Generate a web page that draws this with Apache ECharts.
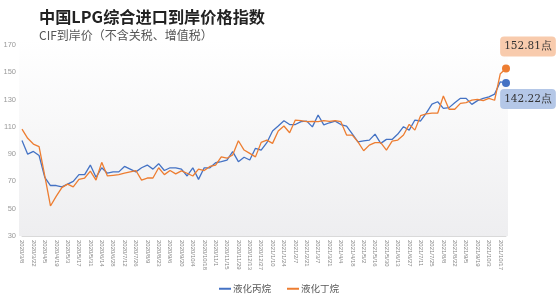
<!DOCTYPE html>
<html><head><meta charset="utf-8">
<script src="https://cdn.jsdelivr.net/npm/echarts@6/dist/echarts.min.js"></script>
<style>html,body{margin:0;padding:0;background:#fff}#c{width:556px;height:294px}</style>
</head><body><div id="c"></div>
<script>
const dates = ['2020/3/8','2020/3/15','2020/3/22','2020/3/29','2020/4/5','2020/4/12','2020/4/19','2020/4/26','2020/5/3','2020/5/10','2020/5/17','2020/5/24','2020/5/31','2020/6/7','2020/6/14','2020/6/21','2020/6/28','2020/7/5','2020/7/12','2020/7/19','2020/7/26','2020/8/2','2020/8/9','2020/8/16','2020/8/23','2020/8/30','2020/9/6','2020/9/13','2020/9/20','2020/9/27','2020/10/4','2020/10/11','2020/10/18','2020/10/25','2020/11/1','2020/11/8','2020/11/15','2020/11/22','2020/11/29','2020/12/6','2020/12/13','2020/12/20','2020/12/27','2021/1/3','2021/1/10','2021/1/17','2021/1/24','2021/1/31','2021/2/7','2021/2/14','2021/2/21','2021/2/28','2021/3/7','2021/3/14','2021/3/21','2021/3/28','2021/4/4','2021/4/11','2021/4/18','2021/4/25','2021/5/2','2021/5/9','2021/5/16','2021/5/23','2021/5/30','2021/6/6','2021/6/13','2021/6/20','2021/6/27','2021/7/4','2021/7/11','2021/7/18','2021/7/25','2021/8/1','2021/8/8','2021/8/15','2021/8/22','2021/8/29','2021/9/5','2021/9/12','2021/9/19','2021/9/26','2021/10/3','2021/10/10','2021/10/17','2021/10/24'];
const propane = [100,90,92,89,73,67,67,66,68,70,75,75,82,73,80,76,77,77,81,79,77,80,82,79,83,78,80,80,79,74,80,71.5,80,80,83.7,84.5,85.6,91.8,84.5,87.7,85.7,94.3,93,98.4,107,110.6,114.5,111.7,111.7,113.8,114.2,110,118.7,111.4,113,114.2,111.7,110.6,104.8,99,99.8,100.3,104.7,97.9,100.8,100.8,104.7,110.1,107.6,115,114.3,120,126.7,128.4,123.6,124.1,127.7,130.9,130.9,126.5,129.2,130.9,132,134,143,142.22];
const butane = [108.4,101.6,97.4,95.5,74,52,59,65.5,68,66,71.5,72.5,77.5,71,84,74,74.5,75,76,77,78,71,72.5,72.5,80,75,78,75.5,77.7,76,74,79,78,81,82,88,87,89.4,99.8,93,90.6,88,98.6,100.3,97.9,107,110.6,105.7,115,114.5,113.8,114,113.8,114.5,114,114.5,113.8,104,104,99,92.5,96.6,98.4,98.4,93,99.6,100.3,104,111.8,107.6,118.2,119.5,120,120,132.6,122.9,122.9,127.2,127.7,129.6,130.2,129.2,130.9,129.5,149,152.81];
const seriesNames = ['液化丙烷','液化丁烷'];
const endLabels = ['142.22点','152.81点'];
const yTicks = {min:30,max:170,interval:20};

const chart = echarts.init(document.getElementById('c'),null,{renderer:'canvas'});
function endPoint(arr, label, color, bg, offset){
  const i = arr.length-1;
  return {symbol:'circle', symbolSize:8, silent:true, animation:false,
    itemStyle:{color:color},
    label:{show:true, position:'inside', offset:offset, formatter:label,
      backgroundColor:bg, borderRadius:4, padding:[5,4,4,4],
      color:'#333', fontSize:10.5, fontFamily:'DejaVu Serif, serif'},
    data:[{coord:[dates[i], arr[i]]}]};
}
chart.setOption({
  animation:false,
  title:{text:'中国LPG综合进口到岸价格指数', subtext:'CIF到岸价（不含关税、增值税）',
    left:34, top:4, itemGap:4,
    textStyle:{fontSize:16.2,fontWeight:'bold',color:'#222',fontFamily:'Noto Sans CJK SC'},
    subtextStyle:{fontSize:12,color:'#555',fontFamily:'Noto Sans CJK SC'}},
  graphic:[{type:'rect', z:-10, shape:{x:19,y:40,width:489,height:196},
    style:{fill:new echarts.graphic.LinearGradient(0,0,0,1,[{offset:0,color:'#ffffff'},{offset:1,color:'#eeeef0'}])}}],
  legend:{left:214, top:279, itemWidth:12, itemHeight:2, itemGap:16, icon:'rect',
    textStyle:{fontSize:9.5,color:'#595959',fontFamily:'Noto Sans CJK SC',padding:[0,0,0,-3]},
    data:seriesNames},
  grid:{left:22, right:50, top:45, bottom:58},
  xAxis:{type:'category', data:dates, boundaryGap:false,
    axisLine:{lineStyle:{color:'#d9d9d9',width:1}}, axisTick:{show:false},
    axisLabel:{interval:1, rotate:-90, fontSize:6, color:'#888', margin:4}},
  yAxis:{type:'value', min:yTicks.min, max:yTicks.max, interval:yTicks.interval,
    splitLine:{show:false}, axisLine:{show:false}, axisTick:{show:false},
    axisLabel:{fontSize:7.5, color:'#999', margin:6}},
  series:[
    {name:seriesNames[0], type:'line', showSymbol:false, symbol:'none', color:'#4472C4', clip:false,
     lineStyle:{width:1.3,color:'#4472C4'}, data:propane,
     markPoint:endPoint(propane,endLabels[0],'#4472C4','#B4C7E7',[22,16])},
    {name:seriesNames[1], type:'line', showSymbol:false, symbol:'none', color:'#ED7D31', clip:false,
     lineStyle:{width:1.3,color:'#ED7D31'}, data:butane,
     markPoint:endPoint(butane,endLabels[1],'#ED7D31','#F8CBAD',[22,-22])}
  ]
});
</script></body></html>
